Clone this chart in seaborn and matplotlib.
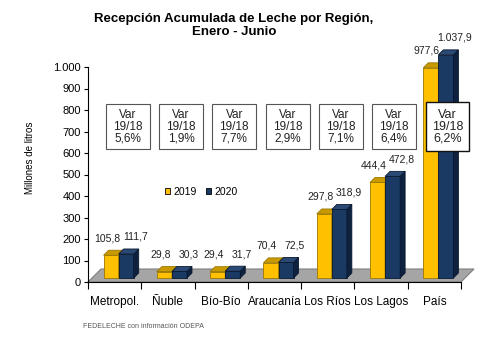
import matplotlib
matplotlib.use("Agg")
import matplotlib.pyplot as plt
import seaborn as sns
import pandas as pd
from matplotlib.patches import Polygon, Rectangle, Patch
from matplotlib.transforms import offset_copy

regions = ["Metropol.", "Ñuble", "Bío-Bío", "Araucanía", "Los Ríos", "Los Lagos", "País"]
years = ["2019", "2020"]
values_2019 = [105.8, 29.8, 29.4, 70.4, 297.8, 444.4, 977.6]
values_2020 = [111.7, 30.3, 31.7, 72.5, 318.9, 472.8, 1037.9]
var_labels = ["5,6%", "1,9%", "7,7%", "2,9%", "7,1%", "6,4%", "6,2%"]
yticks = [0, 100, 200, 300, 400, 500, 600, 700, 800, 900, 1000]

YELLOW = "#FFC000"
BLUE = "#1B3A63"
TOP = {"2019": "#C99A00", "2020": "#2A4A75"}
SIDE = {"2019": "#B08600", "2020": "#0E2240"}
EDGE = {"2019": "#9A7700", "2020": "#0A1830"}

def es_fmt(v, dec=1):
    s = f"{v:,.{dec}f}"
    return s.replace(",", "X").replace(".", ",").replace("X", ".")

df = pd.DataFrame({
    "region": regions * 2,
    "year": [years[0]] * len(regions) + [years[1]] * len(regions),
    "value": values_2019 + values_2020,
})

plt.rcParams["font.family"] = ["Liberation Sans", "DejaVu Sans"]
fig = plt.figure(figsize=(5, 3.4), dpi=100)
W, H = 500, 340
ax = fig.add_axes([88 / W, 58 / H, 373 / W, 215 / H])
ax.set_xlim(-0.5, 6.5)
ax.set_ylim(0, 1000)

# pixel -> data unit conversions
PX_X = 7 / 373
PX_Y = 1000 / 215

# floor
fdx, fdy = 13 * PX_X, 13 * PX_Y
floor = Polygon([(-0.5, 0), (6.5, 0), (6.5 + fdx, fdy), (-0.5 + fdx, fdy)],
                closed=True, fc="#A5A5A5", ec="#7F7F7F", lw=0.8, zorder=1, clip_on=False)
ax.add_patch(floor)

sns.barplot(data=df, x="region", y="value", hue="year", palette=[YELLOW, BLUE],
            width=0.565, ax=ax, legend=False, saturation=1, zorder=3)

off = offset_copy(ax.transData, fig=fig, x=4, y=4, units="dots")
ox, oy = 4 * PX_X, 4 * PX_Y
ddx, ddy = 5 * PX_X, 5 * PX_Y

bars = [b for b in ax.patches if isinstance(b, Rectangle)]
n = len(regions)
for k, b in enumerate(bars):
    yr = years[0] if k < n else years[1]
    z = 3 if yr == years[0] else 4
    b.set_transform(off)
    b.set_clip_on(False)
    b.set_edgecolor(EDGE[yr])
    b.set_linewidth(0.6)
    b.set_zorder(z)
    x0 = b.get_x() + ox
    x1 = x0 + b.get_width()
    y0 = b.get_y() + oy
    y1 = y0 + b.get_height()
    top = Polygon([(x0, y1), (x1, y1), (x1 + ddx, y1 + ddy), (x0 + ddx, y1 + ddy)],
                  closed=True, fc=TOP[yr], ec=EDGE[yr], lw=0.6, zorder=z, clip_on=False)
    side = Polygon([(x1, y0), (x1, y1), (x1 + ddx, y1 + ddy), (x1 + ddx, y0 + ddy)],
                   closed=True, fc=SIDE[yr], ec=EDGE[yr], lw=0.6, zorder=z, clip_on=False)
    ax.add_patch(side)
    ax.add_patch(top)
    cx = (x0 + x1) / 2 + (-4 if yr == years[0] else 9) * PX_X
    ax.text(cx, y1 + 17 * PX_Y, es_fmt(b.get_height()), ha="center", va="center",
            fontsize=7.5, color="#222222", zorder=6)

# variation boxes
for i, lab in enumerate(var_labels):
    cx = i + 13 * PX_X
    cy = (282 - 126.5) * PX_Y
    bw, bh = 44 * PX_X, 45 * PX_Y
    last = i == len(var_labels) - 1
    if last:
        bw, bh = 43 * PX_X, 49 * PX_Y
    rect = Rectangle((cx - bw / 2, cy - bh / 2), bw, bh, fc="white",
                     ec="#111111" if last else "#555555", lw=1.0 if last else 0.8,
                     zorder=7, clip_on=False)
    ax.add_patch(rect)
    ax.text(cx, cy, f"Var\n19/18\n{lab}", ha="center", va="center",
            fontsize=9 if last else 8.5, linespacing=1.0, color="#222222", zorder=8)

# axes styling
ax.set_facecolor("none")
for s in ["top", "right"]:
    ax.spines[s].set_visible(False)
for s in ["left", "bottom"]:
    ax.spines[s].set_color("#000000")
    ax.spines[s].set_linewidth(0.8)
    ax.spines[s].set_zorder(2)
ax.set_yticks(yticks)
ax.set_yticklabels([es_fmt(v, 0) for v in yticks], fontsize=8)
ax.tick_params(axis="y", direction="out", length=3, width=0.8, pad=2)
ax.set_xticks(range(n))
ax.set_xticklabels(regions, fontsize=8.5)
ax.tick_params(axis="x", which="major", length=0, pad=10)
ax.set_xticks([i - 0.5 for i in range(n + 1)], minor=True)
ax.tick_params(axis="x", which="minor", direction="out", length=5, width=0.8)
ax.set_xlabel("")
ax.set_ylabel("")

# legend
handles = [Patch(fc=YELLOW, ec="#000000", lw=0.6), Patch(fc=BLUE, ec="#000000", lw=0.6)]
fig.legend(handles, years, loc="center", bbox_to_anchor=(201 / W, 1 - 192 / H), ncols=2,
           frameon=False, fontsize=7.5, handlelength=0.55, handleheight=0.55,
           handletextpad=0.25, columnspacing=0.9, borderpad=0)

fig.text(234 / W, 1 - 25.5 / H, "Recepción Acumulada de Leche por Región,\nEnero - Junio",
         ha="center", va="center", fontsize=9.5, fontweight="bold", linespacing=1.1)
fig.text(30 / W, 1 - 158 / H, "Millones de litros", rotation=90, ha="center", va="center",
         fontsize=7)
fig.text(83 / W, 1 - 327 / H, "FEDELECHE con información ODEPA", ha="left", va="center",
         fontsize=5, color="#555555")

fig.savefig("out.png", dpi=100, facecolor="white")
